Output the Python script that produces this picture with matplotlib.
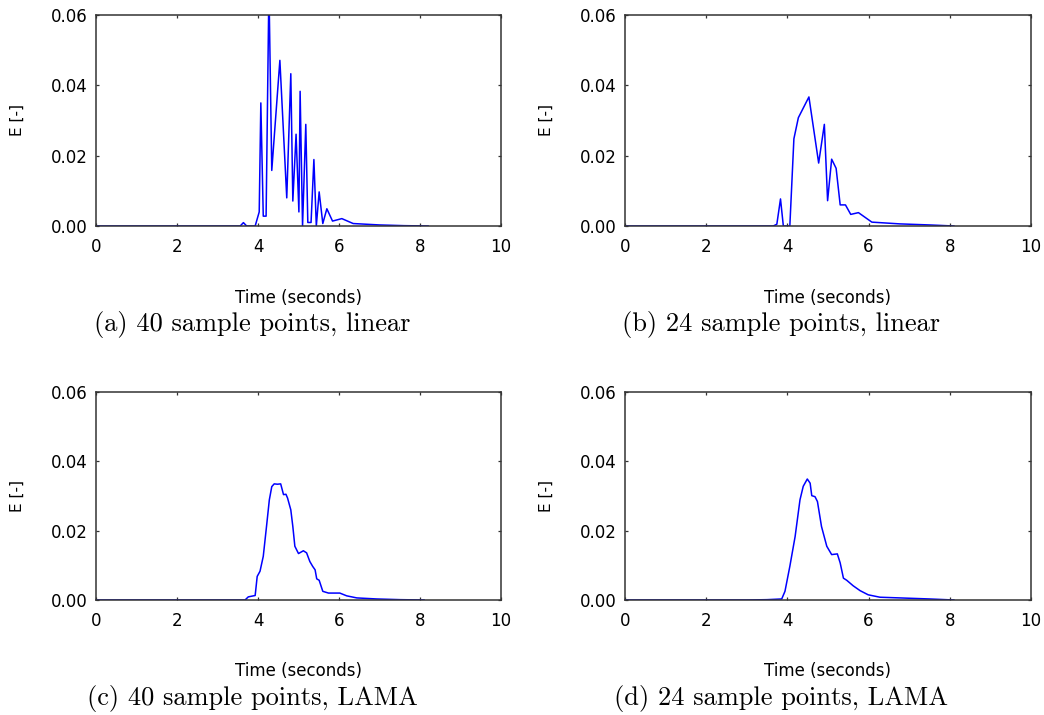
import matplotlib
matplotlib.use("Agg")
import matplotlib.pyplot as plt

# --- data ---------------------------------------------------------------
# (a) 40 sample points, linear interpolation
t_a = [0.0, 1.0, 2.0, 3.0, 3.56, 3.64, 3.72, 3.93, 4.03, 4.07, 4.13, 4.20,
       4.27, 4.34, 4.54, 4.71, 4.81, 4.86, 4.94, 5.01, 5.04, 5.10, 5.18,
       5.23, 5.31, 5.38, 5.44, 5.51, 5.60, 5.70, 5.84, 6.07, 6.35, 7.0,
       7.6, 8.2]
e_a = [0.0, 0.0, 0.0, 0.0, 0.0, 0.00096, 0.0, 0.0, 0.0040, 0.0350, 0.0028,
       0.0028, 0.0680, 0.0158, 0.0471, 0.0080, 0.0433, 0.0071, 0.0261,
       0.0040, 0.0383, 0.0, 0.0289, 0.0010, 0.0010, 0.0189, 0.0, 0.0097,
       0.0007, 0.0049, 0.0014, 0.0021, 0.0007, 0.0003, 0.0001, 0.0]

# (b) 24 sample points, linear interpolation
t_b = [0.0, 1.0, 2.0, 3.0, 3.65, 3.74, 3.83, 3.90, 4.06, 4.16, 4.27, 4.53,
       4.77, 4.91, 4.99, 5.09, 5.20, 5.30, 5.43, 5.56, 5.75, 6.08, 6.77,
       7.5, 8.1]
e_b = [0.0, 0.0, 0.0, 0.0, 0.0, 0.0005, 0.0077, 0.0, 0.0, 0.0248, 0.0308,
       0.0367, 0.0179, 0.0289, 0.0072, 0.0190, 0.0164, 0.0060, 0.0060,
       0.0033, 0.0038, 0.0011, 0.0006, 0.0003, 0.0]

# (c) 40 sample points, LAMA
t_c = [0.0, 1.0, 2.0, 3.0, 3.68, 3.76, 3.93, 3.98, 4.05, 4.13, 4.21, 4.28,
       4.34, 4.40, 4.48, 4.56, 4.63, 4.69, 4.73, 4.81, 4.86, 4.91, 5.00,
       5.12, 5.20, 5.28, 5.35, 5.41, 5.45, 5.51, 5.60, 5.74, 6.02, 6.19,
       6.44, 6.93, 7.51, 8.1]
e_c = [0.0, 0.0, 0.0, 0.0, 0.0, 0.0009, 0.0013, 0.0068, 0.0083, 0.0126,
       0.0212, 0.0289, 0.0327, 0.0335, 0.0334, 0.0335, 0.0304, 0.0305,
       0.0294, 0.0260, 0.0212, 0.0155, 0.0134, 0.0142, 0.0136, 0.0111,
       0.0097, 0.0087, 0.0061, 0.0057, 0.0025, 0.0020, 0.0020, 0.0012,
       0.0006, 0.0003, 0.0001, 0.0]

# (d) 24 sample points, LAMA
t_d = [0.0, 1.0, 2.0, 3.0, 3.5, 3.86, 3.94, 4.06, 4.19, 4.31, 4.39, 4.49,
       4.56, 4.60, 4.68, 4.74, 4.84, 4.97, 5.09, 5.23, 5.30, 5.38, 5.46,
       5.62, 5.79, 5.99, 6.28, 6.77, 7.5, 8.1]
e_d = [0.0, 0.0, 0.0, 0.0, 0.0001, 0.0003, 0.0025, 0.0097, 0.0183, 0.0289,
       0.0328, 0.0349, 0.0337, 0.0301, 0.0298, 0.0284, 0.0212, 0.0155,
       0.0131, 0.0133, 0.0107, 0.0063, 0.0057, 0.0041, 0.0027, 0.0015,
       0.0008, 0.0006, 0.0003, 0.0]

captions = ["(a) 40 sample points, linear", "(b) 24 sample points, linear",
            "(c) 40 sample points, LAMA", "(d) 24 sample points, LAMA"]
x_ticks = [0, 2, 4, 6, 8, 10]
y_ticks = [0.00, 0.02, 0.04, 0.06]

# --- layout (pixel boxes) -----------------------------------------------
W, H = 1044, 715
fig = plt.figure(figsize=(W / 100, H / 100), dpi=100)

# left, top, right, bottom in pixels
boxes = [(96, 15, 501, 226), (625, 15, 1031, 226),
         (96, 392, 501, 600), (625, 392, 1031, 600)]
caption_pos = [(252, 324), (781, 324), (252, 698), (781, 698)]
series = [(t_a, e_a), (t_b, e_b), (t_c, e_c), (t_d, e_d)]

spine_color = "#333333"

for (l, t, r, b), (xs, ys), cap, (cx, cy) in zip(boxes, series, captions, caption_pos):
    ax = fig.add_axes([l / W, 1 - b / H, (r - l) / W, (b - t) / H])
    ax.plot(xs, ys, color="#0000ff", lw=1.1)
    ax.set_xlim(0, 10)
    ax.set_ylim(0, 0.06)
    ax.set_xticks(x_ticks)
    ax.set_yticks(y_ticks)
    ax.set_yticklabels([f"{v:.2f}" for v in y_ticks])
    ax.tick_params(direction="in", length=2.5, width=0.9, color=spine_color,
                   top=True, right=True, labelsize=12)
    ax.tick_params(axis="x", pad=8.5)
    ax.tick_params(axis="y", pad=6)
    for s in ax.spines.values():
        s.set_color(spine_color)
        s.set_linewidth(1.1)
    ax.set_xlabel("Time (seconds)", fontsize=12)
    ax.set_ylabel("E [-]", fontsize=11)
    ax.xaxis.set_label_coords(0.5, -0.30)
    ax.yaxis.set_label_coords(-0.175, 0.5)
    fig.text(cx / W, 1 - cy / H, cap, family="cmr10", fontsize=19,
             ha="center", va="center")

fig.savefig("out.png", dpi=100)
